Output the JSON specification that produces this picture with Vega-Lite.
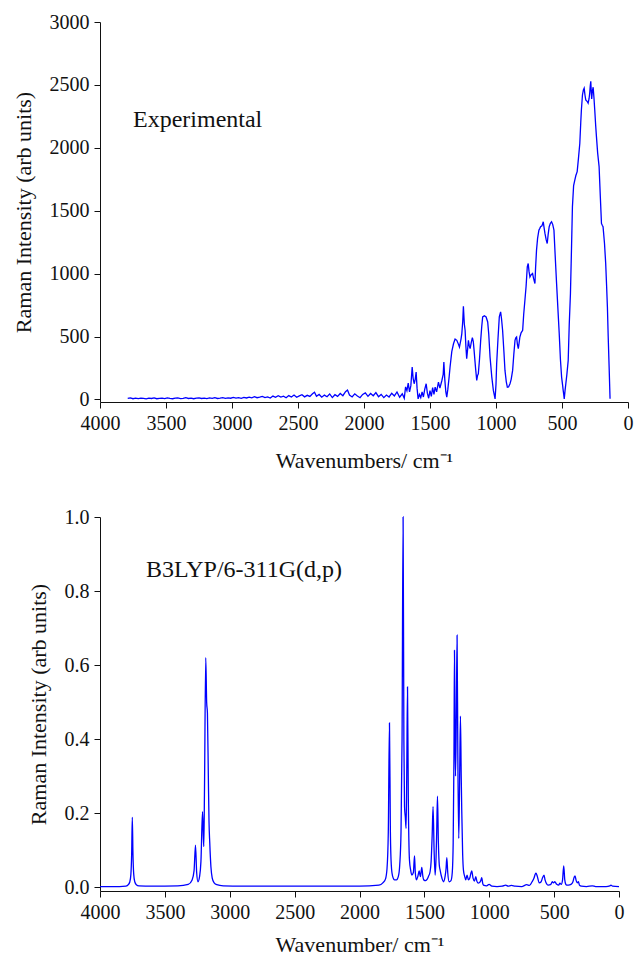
{
  "$schema": "https://vega.github.io/schema/vega-lite/v6.json",
  "padding": {"left": 12, "top": 12, "right": 4, "bottom": 0},
  "spacing": 36,
  "config": {
    "view": {"stroke": null},
    "font": "Liberation Serif",
    "axis": {
      "grid": false,
      "domainColor": "#111",
      "tickColor": "#111",
      "labelColor": "#111",
      "titleColor": "#111",
      "tickSize": 6,
      "labelFontSize": 20,
      "titleFontSize": 22,
      "titleFontWeight": "normal",
      "labelPadding": 5,
      "labelFlush": false
    }
  },
  "datasets": {
    "exp": [
      {"w":3790,"i":8},{"w":3770,"i":12},{"w":3750,"i":6},{"w":3730,"i":10},{"w":3710,"i":7},{"w":3690,"i":11},{"w":3670,"i":9},{"w":3650,"i":5},{"w":3630,"i":10},{"w":3610,"i":8},{"w":3590,"i":12},{"w":3570,"i":6},{"w":3550,"i":9},{"w":3530,"i":11},{"w":3510,"i":7},{"w":3490,"i":13},{"w":3470,"i":9},{"w":3450,"i":6},{"w":3430,"i":10},{"w":3410,"i":12},{"w":3390,"i":7},{"w":3370,"i":9},{"w":3350,"i":14},{"w":3330,"i":8},{"w":3310,"i":11},{"w":3290,"i":6},{"w":3270,"i":10},{"w":3250,"i":13},{"w":3230,"i":8},{"w":3210,"i":11},{"w":3190,"i":7},{"w":3170,"i":12},{"w":3150,"i":9},{"w":3130,"i":14},{"w":3110,"i":8},{"w":3090,"i":11},{"w":3070,"i":15},{"w":3050,"i":9},{"w":3030,"i":13},{"w":3010,"i":10},{"w":2990,"i":16},{"w":2970,"i":11},{"w":2950,"i":14},{"w":2930,"i":9},{"w":2910,"i":17},{"w":2890,"i":12},{"w":2870,"i":19},{"w":2850,"i":13},{"w":2830,"i":22},{"w":2810,"i":14},{"w":2790,"i":18},{"w":2770,"i":25},{"w":2750,"i":15},{"w":2730,"i":21},{"w":2710,"i":12},{"w":2690,"i":27},{"w":2670,"i":17},{"w":2650,"i":30},{"w":2630,"i":19},{"w":2610,"i":26},{"w":2590,"i":14},{"w":2570,"i":31},{"w":2550,"i":20},{"w":2530,"i":35},{"w":2510,"i":18},{"w":2490,"i":28},{"w":2470,"i":38},{"w":2450,"i":21},{"w":2430,"i":33},{"w":2410,"i":24},{"w":2390,"i":45},{"w":2375,"i":58},{"w":2360,"i":26},{"w":2340,"i":40},{"w":2320,"i":18},{"w":2300,"i":35},{"w":2280,"i":22},{"w":2260,"i":44},{"w":2240,"i":15},{"w":2220,"i":38},{"w":2200,"i":25},{"w":2180,"i":48},{"w":2160,"i":30},{"w":2140,"i":62},{"w":2125,"i":75},{"w":2110,"i":35},{"w":2090,"i":20},{"w":2070,"i":45},{"w":2050,"i":28},{"w":2030,"i":14},{"w":2010,"i":40},{"w":1990,"i":52},{"w":1970,"i":25},{"w":1950,"i":48},{"w":1930,"i":30},{"w":1910,"i":55},{"w":1890,"i":22},{"w":1870,"i":40},{"w":1850,"i":15},{"w":1830,"i":35},{"w":1810,"i":20},{"w":1790,"i":50},{"w":1770,"i":28},{"w":1750,"i":60},{"w":1730,"i":18},{"w":1710,"i":45},{"w":1695,"i":10},{"w":1685,"i":100},{"w":1675,"i":70},{"w":1665,"i":130},{"w":1655,"i":60},{"w":1645,"i":110},{"w":1635,"i":258},{"w":1628,"i":170},{"w":1620,"i":125},{"w":1612,"i":160},{"w":1605,"i":218},{"w":1598,"i":90},{"w":1590,"i":5},{"w":1580,"i":40},{"w":1570,"i":15},{"w":1560,"i":60},{"w":1550,"i":20},{"w":1540,"i":80},{"w":1529,"i":125},{"w":1520,"i":50},{"w":1510,"i":10},{"w":1500,"i":70},{"w":1490,"i":25},{"w":1480,"i":95},{"w":1470,"i":40},{"w":1461,"i":98},{"w":1450,"i":60},{"w":1436,"i":138},{"w":1425,"i":90},{"w":1410,"i":151},{"w":1400,"i":200},{"w":1395,"i":297},{"w":1388,"i":160},{"w":1380,"i":60},{"w":1373,"i":19},{"w":1365,"i":80},{"w":1355,"i":180},{"w":1348,"i":258},{"w":1335,"i":380},{"w":1322,"i":443},{"w":1310,"i":480},{"w":1297,"i":470},{"w":1285,"i":440},{"w":1277,"i":417},{"w":1265,"i":480},{"w":1259,"i":523},{"w":1252,"i":620},{"w":1247,"i":741},{"w":1240,"i":600},{"w":1234,"i":550},{"w":1228,"i":420},{"w":1222,"i":324},{"w":1215,"i":400},{"w":1209,"i":470},{"w":1203,"i":430},{"w":1196,"i":404},{"w":1188,"i":450},{"w":1179,"i":491},{"w":1172,"i":460},{"w":1166,"i":390},{"w":1155,"i":250},{"w":1146,"i":151},{"w":1140,"i":190},{"w":1134,"i":204},{"w":1125,"i":320},{"w":1116,"i":470},{"w":1108,"i":580},{"w":1101,"i":656},{"w":1088,"i":665},{"w":1075,"i":656},{"w":1063,"i":616},{"w":1055,"i":520},{"w":1045,"i":337},{"w":1032,"i":180},{"w":1020,"i":72},{"w":1007,"i":5},{"w":1000,"i":120},{"w":995,"i":284},{"w":985,"i":480},{"w":975,"i":656},{"w":965,"i":696},{"w":958,"i":640},{"w":950,"i":550},{"w":940,"i":380},{"w":932,"i":231},{"w":922,"i":140},{"w":914,"i":98},{"w":905,"i":100},{"w":894,"i":125},{"w":885,"i":160},{"w":874,"i":231},{"w":865,"i":360},{"w":856,"i":470},{"w":850,"i":490},{"w":844,"i":497},{"w":838,"i":440},{"w":831,"i":404},{"w":825,"i":450},{"w":819,"i":497},{"w":810,"i":530},{"w":798,"i":550},{"w":790,"i":680},{"w":781,"i":789},{"w":772,"i":900},{"w":763,"i":1054},{"w":756,"i":1081},{"w":750,"i":1020},{"w":743,"i":974},{"w":735,"i":990},{"w":723,"i":1001},{"w":715,"i":960},{"w":705,"i":921},{"w":700,"i":1050},{"w":693,"i":1187},{"w":685,"i":1280},{"w":675,"i":1346},{"w":668,"i":1360},{"w":662,"i":1373},{"w":652,"i":1380},{"w":642,"i":1412},{"w":635,"i":1360},{"w":629,"i":1320},{"w":620,"i":1270},{"w":612,"i":1240},{"w":605,"i":1310},{"w":597,"i":1373},{"w":588,"i":1400},{"w":579,"i":1412},{"w":570,"i":1390},{"w":561,"i":1346},{"w":552,"i":1150},{"w":541,"i":921},{"w":530,"i":700},{"w":521,"i":523},{"w":512,"i":320},{"w":503,"i":178},{"w":495,"i":110},{"w":491,"i":72},{"w":487,"i":40},{"w":483,"i":5},{"w":477,"i":70},{"w":471,"i":125},{"w":463,"i":200},{"w":453,"i":311},{"w":445,"i":600},{"w":436,"i":842},{"w":428,"i":1200},{"w":421,"i":1532},{"w":412,"i":1700},{"w":403,"i":1744},{"w":395,"i":1780},{"w":385,"i":1811},{"w":375,"i":1920},{"w":365,"i":2036},{"w":358,"i":2200},{"w":353,"i":2302},{"w":345,"i":2420},{"w":338,"i":2460},{"w":332,"i":2474},{"w":326,"i":2420},{"w":320,"i":2381},{"w":310,"i":2370},{"w":302,"i":2355},{"w":295,"i":2390},{"w":290,"i":2435},{"w":286,"i":2490},{"w":282,"i":2528},{"w":278,"i":2440},{"w":275,"i":2389},{"w":270,"i":2450},{"w":264,"i":2482},{"w":258,"i":2400},{"w":252,"i":2302},{"w":245,"i":2180},{"w":239,"i":2089},{"w":230,"i":1960},{"w":219,"i":1851},{"w":210,"i":1620},{"w":201,"i":1399},{"w":195,"i":1385},{"w":189,"i":1373},{"w":178,"i":1240},{"w":169,"i":1081},{"w":162,"i":900},{"w":156,"i":735},{"w":150,"i":500},{"w":143,"i":258},{"w":136,"i":5}
    ],
    "calc": [
      {"w":4000,"i":0.002},{"w":3850,"i":0.002},{"w":3800,"i":0.003},{"w":3780,"i":0.008},{"w":3770,"i":0.015},{"w":3762,"i":0.035},{"w":3756,"i":0.09},{"w":3751,"i":0.189},{"w":3746,"i":0.09},{"w":3740,"i":0.035},{"w":3732,"i":0.015},{"w":3720,"i":0.007},{"w":3700,"i":0.004},{"w":3600,"i":0.003},{"w":3400,"i":0.004},{"w":3320,"i":0.008},{"w":3290,"i":0.02},{"w":3275,"i":0.045},{"w":3264,"i":0.114},{"w":3255,"i":0.04},{"w":3245,"i":0.015},{"w":3232,"i":0.03},{"w":3222,"i":0.07},{"w":3210,"i":0.204},{"w":3204,"i":0.14},{"w":3200,"i":0.11},{"w":3195,"i":0.25},{"w":3185,"i":0.62},{"w":3178,"i":0.5},{"w":3172,"i":0.47},{"w":3165,"i":0.3},{"w":3160,"i":0.18},{"w":3154,"i":0.12},{"w":3145,"i":0.055},{"w":3135,"i":0.025},{"w":3120,"i":0.012},{"w":3100,"i":0.007},{"w":3050,"i":0.004},{"w":2900,"i":0.003},{"w":2500,"i":0.003},{"w":2000,"i":0.003},{"w":1850,"i":0.006},{"w":1820,"i":0.012},{"w":1800,"i":0.022},{"w":1788,"i":0.05},{"w":1778,"i":0.15},{"w":1769,"i":0.444},{"w":1762,"i":0.15},{"w":1755,"i":0.06},{"w":1745,"i":0.03},{"w":1730,"i":0.02},{"w":1715,"i":0.02},{"w":1700,"i":0.03},{"w":1690,"i":0.06},{"w":1680,"i":0.15},{"w":1672,"i":0.4},{"w":1664,"i":1.0},{"w":1658,"i":0.4},{"w":1653,"i":0.218},{"w":1647,"i":0.19},{"w":1641,"i":0.159},{"w":1636,"i":0.3},{"w":1630,"i":0.541},{"w":1624,"i":0.25},{"w":1615,"i":0.074},{"w":1605,"i":0.045},{"w":1597,"i":0.033},{"w":1585,"i":0.04},{"w":1576,"i":0.085},{"w":1570,"i":0.04},{"w":1561,"i":0.02},{"w":1550,"i":0.03},{"w":1540,"i":0.044},{"w":1535,"i":0.035},{"w":1530,"i":0.029},{"w":1520,"i":0.054},{"w":1512,"i":0.03},{"w":1505,"i":0.02},{"w":1490,"i":0.018},{"w":1478,"i":0.022},{"w":1469,"i":0.029},{"w":1456,"i":0.042},{"w":1448,"i":0.07},{"w":1440,"i":0.14},{"w":1433,"i":0.218},{"w":1425,"i":0.1},{"w":1417,"i":0.033},{"w":1410,"i":0.08},{"w":1405,"i":0.15},{"w":1399,"i":0.246},{"w":1392,"i":0.12},{"w":1385,"i":0.06},{"w":1379,"i":0.047},{"w":1365,"i":0.025},{"w":1353,"i":0.015},{"w":1340,"i":0.03},{"w":1333,"i":0.05},{"w":1327,"i":0.08},{"w":1320,"i":0.04},{"w":1309,"i":0.015},{"w":1295,"i":0.018},{"w":1285,"i":0.04},{"w":1278,"i":0.12},{"w":1272,"i":0.35},{"w":1268,"i":0.64},{"w":1264,"i":0.45},{"w":1260,"i":0.3},{"w":1254,"i":0.45},{"w":1248,"i":0.681},{"w":1242,"i":0.35},{"w":1235,"i":0.132},{"w":1228,"i":0.3},{"w":1222,"i":0.462},{"w":1216,"i":0.3},{"w":1212,"i":0.209},{"w":1205,"i":0.09},{"w":1199,"i":0.047},{"w":1190,"i":0.03},{"w":1181,"i":0.02},{"w":1171,"i":0.033},{"w":1161,"i":0.02},{"w":1150,"i":0.025},{"w":1140,"i":0.04},{"w":1135,"i":0.044},{"w":1125,"i":0.025},{"w":1114,"i":0.017},{"w":1104,"i":0.029},{"w":1095,"i":0.016},{"w":1084,"i":0.011},{"w":1065,"i":0.018},{"w":1058,"i":0.026},{"w":1050,"i":0.01},{"w":1045,"i":0.006},{"w":1020,"i":0.004},{"w":1001,"i":0.008},{"w":980,"i":0.003},{"w":940,"i":0.002},{"w":900,"i":0.003},{"w":873,"i":0.006},{"w":855,"i":0.003},{"w":830,"i":0.005},{"w":800,"i":0.003},{"w":750,"i":0.002},{"w":711,"i":0.007},{"w":690,"i":0.005},{"w":670,"i":0.015},{"w":655,"i":0.025},{"w":645,"i":0.036},{"w":640,"i":0.038},{"w":630,"i":0.03},{"w":615,"i":0.012},{"w":600,"i":0.015},{"w":590,"i":0.025},{"w":578,"i":0.033},{"w":570,"i":0.02},{"w":555,"i":0.008},{"w":545,"i":0.006},{"w":525,"i":0.008},{"w":514,"i":0.015},{"w":505,"i":0.012},{"w":495,"i":0.015},{"w":480,"i":0.008},{"w":465,"i":0.006},{"w":455,"i":0.011},{"w":445,"i":0.008},{"w":435,"i":0.02},{"w":426,"i":0.058},{"w":418,"i":0.02},{"w":410,"i":0.008},{"w":403,"i":0.006},{"w":390,"i":0.006},{"w":370,"i":0.008},{"w":355,"i":0.015},{"w":345,"i":0.028},{"w":339,"i":0.031},{"w":330,"i":0.018},{"w":322,"i":0.012},{"w":313,"i":0.015},{"w":305,"i":0.006},{"w":290,"i":0.003},{"w":250,"i":0.002},{"w":206,"i":0.004},{"w":180,"i":0.002},{"w":100,"i":0.002},{"w":70,"i":0.004},{"w":62,"i":0.006},{"w":50,"i":0.003},{"w":0,"i":0.002}
    ]
  },
  "vconcat": [
    {
      "width": 528,
      "height": 380,
      "layer": [
        {
          "data": {"name": "exp"},
          "mark": {"type": "line", "color": "#0000ff", "strokeWidth": 1.3, "interpolate": "linear"},
          "encoding": {
            "x": {"field": "w", "type": "quantitative", "sort": null,
                  "scale": {"domain": [4000, 0], "nice": false, "zero": false},
                  "axis": {"values": [4000,3500,3000,2500,2000,1500,1000,500,0], "format": "d", "title": "Wavenumbers/ cm⁻¹", "titlePadding": 17}},
            "y": {"field": "i", "type": "quantitative",
                  "scale": {"domain": [-20, 3000], "nice": false, "zero": false},
                  "axis": {"values": [0,500,1000,1500,2000,2500,3000], "format": "d", "title": "Raman Intensity (arb units)", "titlePadding": 14}}
          }
        },
        {
          "data": {"values": [{"w": 3750, "i": 2221, "label": "Experimental"}]},
          "mark": {"type": "text", "align": "left", "baseline": "middle", "fontSize": 24, "font": "Liberation Serif", "color": "#111"},
          "encoding": {
            "x": {"field": "w", "type": "quantitative"},
            "y": {"field": "i", "type": "quantitative"},
            "text": {"field": "label"}
          }
        }
      ]
    },
    {
      "width": 519,
      "height": 374,
      "layer": [
        {
          "data": {"name": "calc"},
          "mark": {"type": "line", "color": "#0000ff", "strokeWidth": 1.3, "interpolate": "monotone"},
          "encoding": {
            "x": {"field": "w", "type": "quantitative", "sort": null,
                  "scale": {"domain": [4000, 0], "nice": false, "zero": false},
                  "axis": {"values": [4000,3500,3000,2500,2000,1500,1000,500,0], "format": "d", "title": "Wavenumber/ cm⁻¹", "titlePadding": 12}},
            "y": {"field": "i", "type": "quantitative",
                  "scale": {"domain": [-0.01, 1.0], "nice": false, "zero": false},
                  "axis": {"values": [0,0.2,0.4,0.6,0.8,1.0], "format": ".1f", "title": "Raman Intensity (arb units)", "titlePadding": 14}}
          }
        },
        {
          "data": {"values": [{"w": 3646, "i": 0.857, "label": "B3LYP/6-311G(d,p)"}]},
          "mark": {"type": "text", "align": "left", "baseline": "middle", "fontSize": 24, "font": "Liberation Serif", "color": "#111"},
          "encoding": {
            "x": {"field": "w", "type": "quantitative"},
            "y": {"field": "i", "type": "quantitative"},
            "text": {"field": "label"}
          }
        }
      ]
    }
  ]
}
